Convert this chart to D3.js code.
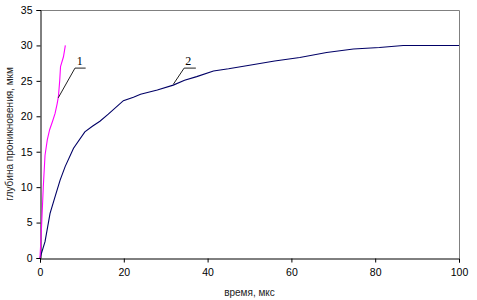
<!DOCTYPE html>
<html lang="ru">
<head>
<meta charset="utf-8">
<script src="https://d3js.org/d3.v7.min.js"></script>
<style>
  body { margin: 0; background: #fff; }
  svg { display: block; font-family: "Liberation Sans", Arial, sans-serif; }
</style>
</head>
<body>
<div id="chart"></div>
<script>
// curve 1 (magenta)
var time1  = [0, 0.4, 0.79, 1.2, 1.75, 2.3, 3.0, 3.6, 4.1, 4.4, 4.7, 4.9, 5.6, 6.05];
var depth1 = [0, 4.8, 10.1, 14.5, 16.7, 18.1, 19.3, 20.4, 21.8, 22.8, 25, 27, 28.4, 30];
// curve 2 (navy)
var time2  = [0, 1.2, 2.4, 3.6, 4.8, 6, 8, 10.7, 12.5, 14.3, 16.3, 19.9, 22.3, 24, 28, 31.8, 34.5, 37.4, 41.4, 45, 50, 56, 62, 68.4, 74.8, 81, 86.7, 100];
var depth2 = [0, 2.3, 6.3, 8.65, 11, 12.9, 15.5, 17.8, 18.6, 19.3, 20.3, 22.2, 22.7, 23.1, 23.7, 24.4, 25.1, 25.6, 26.4, 26.7, 27.2, 27.8, 28.3, 29.0, 29.5, 29.7, 30, 30];

var xTicks = [0, 20, 40, 60, 80, 100];
var yTicks = [0, 5, 10, 15, 20, 25, 30, 35];

// curve labels: text position, leader shelf and the point it points to (data units)
var labelText = ["1", "2"];
var labelPos  = [[9.5, 27.25], [35.4, 27.25]];
var shelfFrom = [[8.35, 26.8], [34.4, 26.8]];
var shelfTo   = [[10.9, 26.8], [37.2, 26.8]];
var pointAt   = [[4.35, 22.6], [31.8, 24.5]];

var W = 477, H = 300;
var m = {left: 40, right: 18, top: 10, bottom: 42};

var svg = d3.select("#chart").append("svg")
  .attr("width", W).attr("height", H);

var x = d3.scaleLinear().domain([0, 100]).range([m.left, W - m.right]);
var y = d3.scaleLinear().domain([0, 35]).range([H - m.bottom, m.top]);

// top and right frame
svg.append("path")
  .attr("d", "M" + x(0) + "," + (y(35) + 0.5) + "H" + (x(100) + 0.5) + "V" + y(0))
  .attr("fill", "none").attr("stroke", "#808080").attr("stroke-width", 1);

var xAxis = svg.append("g")
  .attr("transform", "translate(0," + (y(0) + 0.5) + ")")
  .call(d3.axisBottom(x).tickValues(xTicks).tickSize(4).tickPadding(6));
var yAxis = svg.append("g")
  .attr("transform", "translate(" + (x(0) + 0.5) + ",0)")
  .call(d3.axisLeft(y).tickValues(yTicks).tickSize(4).tickPadding(4));

[xAxis, yAxis].forEach(function(a) {
  a.selectAll("path, line").attr("stroke", "#000");
  a.selectAll("text").attr("fill", "#000")
    .style("font-size", "10.5px").style("font-family", "Liberation Sans, Arial, sans-serif");
});

var line = d3.line()
  .x(function(d) { return x(d[0]); })
  .y(function(d) { return y(d[1]); });

svg.append("path")
  .datum(time2.map(function(t, i) { return [t, depth2[i]]; }))
  .attr("d", line).attr("fill", "none")
  .attr("stroke", "#000066").attr("stroke-width", 1.1);

svg.append("path")
  .datum(time1.map(function(t, i) { return [t, depth1[i]]; }))
  .attr("d", line).attr("fill", "none")
  .attr("stroke", "#ff00ff").attr("stroke-width", 1.1);

// leaders and numbers
labelText.forEach(function(txt, i) {
  svg.append("path")
    .attr("d", line([shelfTo[i], shelfFrom[i], pointAt[i]]))
    .attr("fill", "none").attr("stroke", "#222").attr("stroke-width", 1);
  svg.append("text")
    .attr("x", x(labelPos[i][0])).attr("y", y(labelPos[i][1]))
    .attr("text-anchor", "middle")
    .style("font-family", "Liberation Serif, Times New Roman, serif")
    .style("font-size", "12px")
    .text(txt);
});

// axis titles
svg.append("text")
  .attr("x", (x(0) + x(100)) / 2).attr("y", 296)
  .attr("text-anchor", "middle")
  .style("font-size", "10px").attr("fill", "#222")
  .text("время, мкс");

svg.append("text")
  .attr("transform", "translate(13," + ((y(0) + y(35)) / 2) + ") rotate(-90)")
  .attr("text-anchor", "middle")
  .style("font-size", "10px").attr("fill", "#222")
  .text("глубина проникновения, мкм");
</script>
</body>
</html>
